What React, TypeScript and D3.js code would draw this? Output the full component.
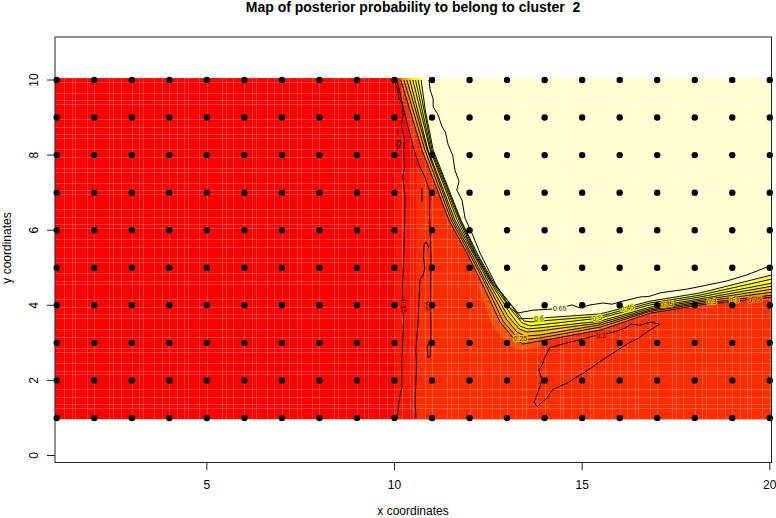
import React from "react";
import * as d3 from "d3";

const titleText = "Map of posterior probability to belong to cluster  2";
const xLabelText = "x coordinates";
const yLabelText = "y coordinates";
const xTicks = [5, 10, 15, 20];
const yTicks = [0, 2, 4, 6, 8, 10];
const designX = [1, 2, 3, 4, 5, 6, 7, 8, 9, 10, 11, 12, 13, 14, 15, 16, 17, 18, 19, 20];
const designY = [1, 2, 3, 4, 5, 6, 7, 8, 9, 10];

type P = [number, number];

const c015: P[] = [[9.99,10],[10.08,9.75],[10.12,9.5],[10.19,9.42],[10.23,9.12],[10.19,8.8],[10.26,8.4],[10.24,8.06],[10.27,7.7],[10.22,7.42],[10.28,6.9],[10.27,6.27],[10.25,5.4],[10.21,4.41],[10.24,3.6],[10.2,2.6],[10.2,1.82],[10.14,1.55],[10.09,1.21],[10.07,1]];
const c020a: P[] = [[10.07,10],[10.28,9.07],[10.52,8.14],[10.68,7.68],[10.81,7.42],[10.95,6.99],[10.93,6.5],[10.95,6.08],[10.97,5.21],[10.96,4.14],[10.97,3.3],[10.95,2.62],[10.89,2.62],[10.87,2.89],[10.93,3.05]];
const c020b: P[] = [[10.57,1],[10.55,1.48],[10.59,2.4],[10.57,2.81],[10.63,3.61],[10.66,4.3],[10.68,4.67],[10.76,4.8],[10.81,4.99],[10.77,5.3],[10.79,5.61],[10.84,5.69],[10.92,5.53]];
const c020c: P[] = [[17.07,3.5],[16.81,3.55],[16.54,3.47],[16.3,3.5],[16.14,3.39],[15.74,3.26],[15.4,3.21],[14.94,3.08],[14.6,3.0],[14.14,2.87],[14.01,2.63],[13.93,2.4],[13.84,2.28],[13.93,2.02],[13.82,1.67],[13.72,1.42],[13.8,1.31],[14.06,1.53],[14.22,1.76],[14.6,1.93],[14.94,2.14],[15.05,2.2],[15.4,2.45],[15.93,2.8],[16.28,3.02],[16.5,3.12],[16.73,3.29],[17.02,3.47],[17.07,3.5]];
const c020d: P[] = [[10.09,8.67],[10.09,8.53]];
const c020e: P[] = [[10.07,8.14],[10.07,8.37],[10.15,8.4],[10.17,8.3],[10.07,8.14]];
const c020f: P[] = [[10.73,7.12],[10.73,6.75]];
const c025: P[] = [[10.17,10],[10.73,8.14],[11.45,6.27],[11.93,5.39],[12.33,4.59],[12.81,3.56],[13.16,3.13],[13.42,2.97],[13.88,3.05],[15.48,3.34],[16.81,3.79],[18.14,4.01],[20.06,4.22]];
const c030: P[] = [[10.25,10],[10.81,8.14],[11.51,6.27],[11.99,5.39],[12.41,4.59],[12.89,3.58],[13.21,3.21],[13.45,3.08],[13.88,3.13],[15.48,3.42],[16.81,3.84],[18.14,4.05],[20.06,4.27]];
const c035: P[] = [[10.33,10],[10.87,8.14],[11.56,6.27],[12.04,5.39],[12.46,4.59],[12.97,3.64],[13.26,3.29],[13.48,3.18],[13.88,3.21],[15.48,3.48],[16.81,3.87],[18.14,4.09],[20.06,4.35]];
const c040: P[] = [[10.41,10],[10.89,8.14],[11.61,6.27],[12.09,5.39],[12.52,4.59],[13.02,3.72],[13.32,3.37],[13.53,3.29],[13.88,3.32],[15.48,3.53],[16.81,3.91],[18.14,4.13],[20.06,4.43]];
const c045: P[] = [[10.49,10],[10.95,8.14],[11.67,6.27],[12.12,5.39],[12.57,4.59],[13.08,3.79],[13.34,3.45],[13.56,3.37],[13.88,3.4],[15.48,3.58],[16.81,3.95],[18.14,4.17],[20.06,4.51]];
const c050: P[] = [[10.56,10],[10.97,8.14],[11.72,6.27],[12.14,5.39],[12.6,4.59],[13.13,3.85],[13.4,3.53],[13.61,3.45],[13.88,3.48],[15.48,3.66],[16.81,4.01],[18.14,4.22],[20.06,4.59]];
const c055: P[] = [[10.63,10],[11.0,8.14],[11.75,6.27],[12.17,5.39],[12.62,4.59],[13.18,3.93],[13.45,3.58],[13.66,3.56],[13.88,3.58],[15.48,3.71],[16.81,4.06],[18.14,4.27],[20.06,4.7]];
const c060: P[] = [[10.71,10],[10.82,9.2],[11.03,8.14],[11.77,6.27],[12.2,5.39],[12.65,4.59],[13.13,3.98],[13.34,3.64],[13.56,3.65],[13.88,3.66],[15.48,3.77],[16.81,4.11],[18.14,4.33],[20.06,4.81]];
const c065: P[] = [[10.92,10],[10.95,9.73],[11.03,9.5],[11.03,9.28],[11.15,9.1],[11.27,8.75],[11.36,8.6],[11.43,8.27],[11.55,8.0],[11.61,7.6],[11.72,7.3],[11.66,7.07],[11.8,6.8],[11.88,6.32],[12.05,5.95],[12.28,5.39],[12.68,4.59],[13.08,3.93],[13.26,3.79],[13.69,3.87],[14.22,3.9],[14.5,3.95],[14.73,4.01],[14.94,3.93],[15.21,4.01],[15.56,4.06],[15.8,4.03],[16.0,4.09],[16.54,4.22],[16.8,4.24],[17.07,4.33],[17.79,4.43],[18.33,4.54],[18.86,4.65],[19.39,4.81],[20.06,5.07]];

const bandLines: P[][] = [c025, c030, c035, c040, c045, c050, c055, c060];
const bandColors = ["#FF8000", "#FF9F00", "#FFBF00", "#FFDF00", "#FFFF00", "#FFFF00", "#FFFF30", "#FFFFD2"];
const otherLines: P[][] = [c015, c020a, c020b, c020c, c020d, c020e, c020f, c065];

const redOrangeEdge: P[] = [[10.57,0.96],[10.57,7.7],[10.68,7.68],[10.52,8.14],[10.28,9.07],[10.07,10.05],[20.06,10.05],[20.06,0.96]];
const midRedEdge: P[] = [[10.0,0.96],[10.0,7.5],[10.57,7.7],[10.57,0.96]];
const orangePatch: P[] = [[12.2,4.59],[12.6,3.48],[13.02,2.94],[13.4,2.81],[14.01,2.92],[14.01,3.2],[13,4]];

const contourLabels: { t: string; x: number; y: number; r: number; bg: string }[] = [
  { t: "0.65", x: 14.4, y: 3.92, r: -2, bg: "#FFFFD2" },
  { t: "0.6", x: 13.85, y: 3.66, r: -2, bg: "#FFFF40" },
  { t: "0.5", x: 15.4, y: 3.66, r: -10, bg: "#FFFF20" },
  { t: "0.45", x: 16.2, y: 3.93, r: -10, bg: "#FFFF00" },
  { t: "0.35", x: 17.25, y: 4.03, r: -8, bg: "#FFBF00" },
  { t: "0.3", x: 18.45, y: 4.1, r: -5, bg: "#FFBF00" },
  { t: "0.3", x: 19.05, y: 4.14, r: -5, bg: "#FFBF00" },
  { t: "0.25", x: 19.6, y: 4.15, r: -5, bg: "#FF8000" },
  { t: "0.25", x: 13.35, y: 3.12, r: 0, bg: "#FFBF00" },
  { t: "0.2", x: 15.5, y: 3.2, r: -8, bg: "#FF2C00" },
  { t: "0.15", x: 10.25, y: 3.98, r: 90, bg: "#FF1400" },
  { t: "0.2", x: 10.9, y: 3.98, r: 90, bg: "#FF2C00" },
];

const gridStepsX = [2, 2, 1, 3, 2, 4, 1, 2, 3, 2, 1, 3, 2, 2];
const gridStepsY = [3, 1, 2, 2, 4, 1, 2, 3, 1, 3, 2];

const x = d3.scaleLinear().domain([0, 20]).range([19.2, 769.8]);
const y = d3.scaleLinear().domain([0, 10]).range([455.5, 80]);
const line = d3.line<P>().x((d) => x(d[0])).y((d) => y(d[1]));
const poly = (p: P[]) => line(p) + "Z";

const imgX: P = [0.953, 20.06];
const imgY: P = [0.96, 10.05];

function positions(steps: number[], from: number, to: number) {
  const out: number[] = [];
  let v = from, i = 0;
  while (v < to) {
    v += steps[i % steps.length] * 0.1;
    i++;
    if (v < to) out.push(v);
  }
  return out;
}

const font = "'Liberation Sans', Arial, sans-serif";

export default function App() {
  const gx = positions(gridStepsX, 1, 20.06);
  const gy = positions(gridStepsY, 0.96, 10.05);
  return (
    <svg width={776} height={518} style={{ position: "absolute", left: 0, top: 0, display: "block", background: "#fff" }} fontFamily={font}>
      <defs>
        <clipPath id="img">
          <rect x={x(imgX[0])} y={y(imgY[1])} width={x(imgX[1]) - x(imgX[0])} height={y(imgY[0]) - y(imgY[1])} />
        </clipPath>
      </defs>
      <g clipPath="url(#img)">
        <rect x={x(imgX[0])} y={y(imgY[1])} width={x(imgX[1]) - x(imgX[0])} height={y(imgY[0]) - y(imgY[1])} fill="#FF0000" />
        <path d={poly(midRedEdge)} fill="#FF1400" />
        <path d={poly(redOrangeEdge)} fill="#FF2C00" />
        <path d={poly(orangePatch)} fill="#FF5000" />
        {bandLines.map((l, i) => (
          <path key={i} d={poly([[l[0][0], imgY[1]], ...l, [imgX[1], imgY[1]]] as P[])} fill={bandColors[i]} />
        ))}
        {gx.map((v, i) => (
          <line key={"gx" + i} x1={Math.round(x(v)) + 0.5} x2={Math.round(x(v)) + 0.5} y1={y(imgY[1])} y2={y(imgY[0])} stroke="#fff" strokeOpacity={0.22} />
        ))}
        {gy.map((v, i) => (
          <line key={"gy" + i} y1={Math.round(y(v)) + 0.5} y2={Math.round(y(v)) + 0.5} x1={x(imgX[0])} x2={x(imgX[1])} stroke="#fff" strokeOpacity={0.22} />
        ))}
      </g>
      <g fill="none" stroke="#000" strokeWidth={0.95}>
        {bandLines.map((l, i) => (
          <path key={i} d={line(l) as string} />
        ))}
      </g>
      <g fill="none" stroke="#000" strokeWidth={1}>
        {otherLines.map((l, i) => (
          <path key={i} d={line(l) as string} />
        ))}
      </g>
      <g fontSize={7} textAnchor="middle">
        {contourLabels.map((l, i) => (
          <g key={i} transform={`translate(${x(l.x)},${y(l.y)}) rotate(${l.r})`}>
            <text dy="0.35em" fill="none" stroke={l.bg} strokeWidth={2}>{l.t}</text>
            <text dy="0.35em" fill="#111">{l.t}</text>
          </g>
        ))}
      </g>
      <g fill="#000">
        {designX.flatMap((a) => designY.map((b) => <circle key={a + "-" + b} cx={x(a)} cy={y(b)} r={3.2} />))}
      </g>
      <rect x={55} y={37} width={716.5} height={425.5} fill="none" stroke="#222" strokeWidth={1} />
      <g stroke="#222" fill="none">
        {xTicks.map((t) => <line key={t} x1={x(t)} x2={x(t)} y1={462.5} y2={470} />)}
        {yTicks.map((t) => <line key={t} y1={y(t)} y2={y(t)} x1={55} x2={47} />)}
      </g>
      <g fontSize={12} fill="#000" textAnchor="middle">
        {xTicks.map((t) => <text key={t} x={x(t)} y={488.5}>{t}</text>)}
        {yTicks.map((t) => <text key={t} transform={`translate(37.5,${y(t)}) rotate(-90)`}>{t}</text>)}
        <text x={413} y={515}>{xLabelText}</text>
        <text transform="translate(10.5,248) rotate(-90)">{yLabelText}</text>
        <text x={413} y={12} fontSize={14} fontWeight="bold" style={{ whiteSpace: "pre" }}>{titleText}</text>
      </g>
    </svg>
  );
}
